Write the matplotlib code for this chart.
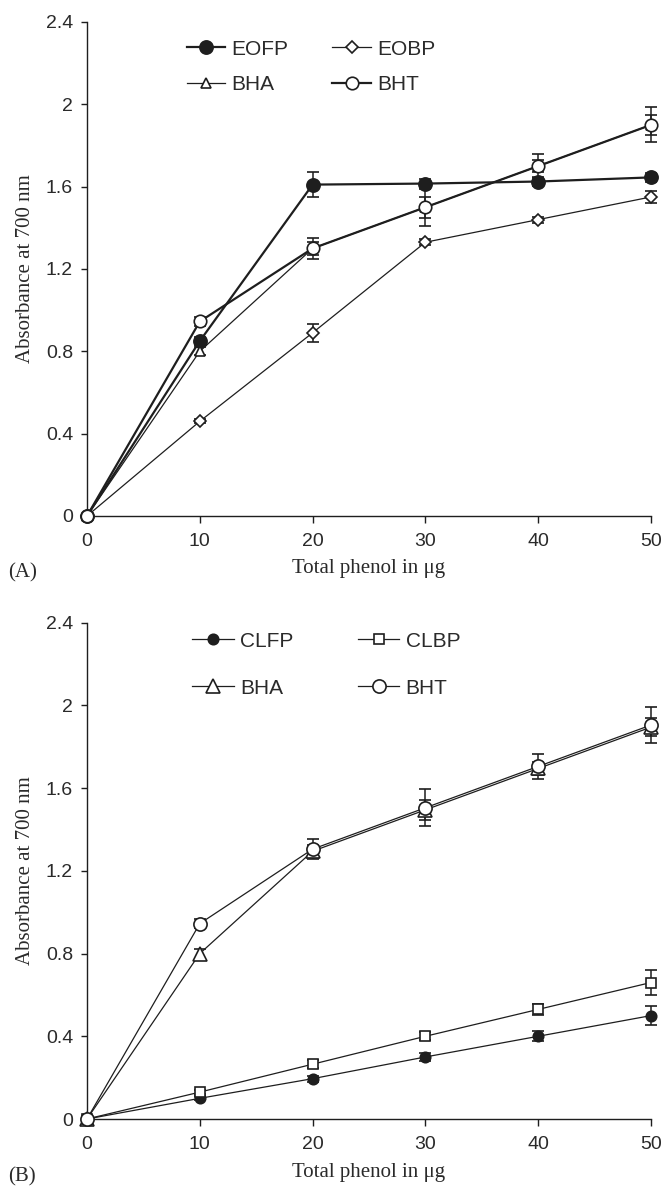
import matplotlib
matplotlib.use("Agg")
import matplotlib.pyplot as plt
from matplotlib.lines import Line2D

# shared x values (total phenol, ug)
phenol = [0, 10, 20, 30, 40, 50]
x_ticks = [0, 10, 20, 30, 40, 50]
y_ticks = [0, 0.4, 0.8, 1.2, 1.6, 2.0, 2.4]
y_tick_labels = ["0", "0.4", "0.8", "1.2", "1.6", "2", "2.4"]

# panel A
eofp = [0.0, 0.85, 1.61, 1.615, 1.625, 1.645]
eofp_err = [0.0, 0.02, 0.06, 0.02, 0.02, 0.02]
eobp = [0.0, 0.46, 0.89, 1.33, 1.44, 1.55]
eobp_err = [0.0, 0.01, 0.045, 0.015, 0.015, 0.03]
bha_a = [0.0, 0.80, 1.30, 1.50, 1.70, 1.90]
bha_a_err = [0.0, 0.02, 0.03, 0.05, 0.03, 0.05]
bht_a = [0.0, 0.945, 1.30, 1.50, 1.70, 1.90]
bht_a_err = [0.0, 0.02, 0.05, 0.09, 0.06, 0.085]

# panel B
clfp = [0.0, 0.10, 0.195, 0.30, 0.40, 0.50]
clfp_err = [0.0, 0.01, 0.015, 0.02, 0.025, 0.045]
clbp = [0.0, 0.13, 0.265, 0.40, 0.53, 0.66]
clbp_err = [0.0, 0.01, 0.02, 0.02, 0.025, 0.06]
bha_b = [0.0, 0.80, 1.295, 1.495, 1.695, 1.895]
bha_b_err = [0.0, 0.02, 0.03, 0.05, 0.03, 0.045]
bht_b = [0.0, 0.945, 1.305, 1.505, 1.705, 1.905]
bht_b_err = [0.0, 0.02, 0.05, 0.09, 0.06, 0.085]

INK = "#1e1e1e"
TXT = "#2a2a2a"
SANS = ["Liberation Sans", "DejaVu Sans"]
SERIF = ["Liberation Serif", "DejaVu Serif"]

fig = plt.figure(figsize=(6.63, 11.86), dpi=100)
ax_a = fig.add_axes([87 / 663, 1 - 516 / 1186, 564 / 663, 494 / 1186])
ax_b = fig.add_axes([87 / 663, 1 - 1119 / 1186, 564 / 663, 496.3 / 1186])


def series(ax, y, err, marker, ms, lw, face):
    ax.errorbar(phenol, y, yerr=err, color=INK, lw=lw, marker=marker,
                markersize=ms, markerfacecolor=face, markeredgecolor=INK,
                markeredgewidth=1.2, ecolor=INK, elinewidth=1.1,
                capsize=4, capthick=1.1, clip_on=False, zorder=3)
    return Line2D([], [], color=INK, lw=lw, marker=marker, markersize=ms,
                  markerfacecolor=face, markeredgecolor=INK,
                  markeredgewidth=1.2)


def style_axes(ax, tag, tag_y, xlab_y):
    ax.set_xlim(0, 50)
    ax.set_ylim(0, 2.4)
    ax.set_xticks(x_ticks)
    ax.set_yticks(y_ticks)
    ax.set_yticklabels(y_tick_labels)
    for s in ["top", "right"]:
        ax.spines[s].set_visible(False)
    for s in ["left", "bottom"]:
        ax.spines[s].set_color(INK)
        ax.spines[s].set_linewidth(1.0)
    ax.tick_params(axis="both", direction="out", width=1.0, color=INK,
                   labelcolor=TXT, labelsize=14)
    ax.tick_params(axis="x", length=5, pad=7.5)
    ax.tick_params(axis="y", length=4, pad=6)
    for lab in ax.get_xticklabels() + ax.get_yticklabels():
        lab.set_family(SANS)
    ax.set_xlabel("Total phenol in μg", family=SERIF, fontsize=15, color=TXT)
    ax.xaxis.set_label_coords(0.5, xlab_y)
    ax.set_ylabel("Absorbance at 700 nm", family=SERIF, fontsize=15, color=TXT)
    ax.yaxis.set_label_coords(-0.093, 0.5)
    ax.text(-0.140, tag_y, tag, transform=ax.transAxes, family=SERIF,
            fontsize=15, color=TXT, ha="left", va="baseline")


def add_legend(ax, handles, labels, anchor, hlen, colsp, labsp):
    leg = ax.legend(handles, labels, ncol=2, frameon=False, loc="upper left",
                    bbox_to_anchor=anchor, borderaxespad=0, borderpad=0,
                    handlelength=hlen, handletextpad=0.3, columnspacing=colsp,
                    labelspacing=labsp, prop={"family": SANS, "size": 15})
    for t in leg.get_texts():
        t.set_color(TXT)


# panel A
h_eofp = series(ax_a, eofp, eofp_err, "o", 9.5, 1.6, INK)
h_bha = series(ax_a, bha_a, bha_a_err, "^", 6.5, 0.9, "white")
h_eobp = series(ax_a, eobp, eobp_err, "D", 6, 0.9, "white")
h_bht = series(ax_a, bht_a, bht_a_err, "o", 9, 1.6, "white")
style_axes(ax_a, "(A)", -0.125, -0.088)
add_legend(ax_a, [h_eofp, h_bha, h_eobp, h_bht],
           ["EOFP", "BHA", "EOBP", "BHT"], (0.177, 0.964), 1.85, 2.1, 0.77)

# panel B
h_clfp = series(ax_b, clfp, clfp_err, "o", 7.5, 0.9, INK)
h_bha = series(ax_b, bha_b, bha_b_err, "^", 10, 0.9, "white")
h_clbp = series(ax_b, clbp, clbp_err, "s", 7.5, 0.9, "white")
h_bht = series(ax_b, bht_b, bht_b_err, "o", 9.5, 0.9, "white")
style_axes(ax_b, "(B)", -0.125, -0.089)
add_legend(ax_b, [h_clfp, h_bha, h_clbp, h_bht],
           ["CLFP", "BHA", "CLBP", "BHT"], (0.186, 0.982), 2.0, 3.1, 1.35)

fig.savefig("out.png", dpi=100)
